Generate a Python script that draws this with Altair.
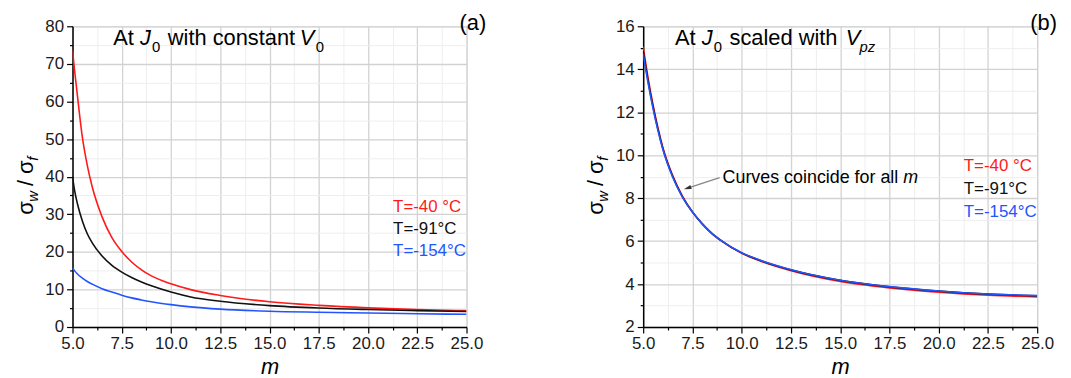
import altair as alt
import pandas as pd

FONT = "Liberation Sans"

# ---------------- data ----------------
series_labels = ["T=-40 °C", "T=-91°C", "T=-154°C"]
series_colors = ["#ff1a1a", "#111111", "#2355ff"]

m_a = [5.0, 5.1, 5.25, 5.5, 5.75, 6.0, 6.5, 7.0, 7.5, 8.0, 8.5, 9.0, 10.0, 11.0, 12.5, 15.0, 17.5, 20.0, 22.5, 25.0]
red_a = [73.6, 68.5, 61.5, 50.5, 43.0, 37.3, 29.3, 23.8, 20.1, 17.3, 15.2, 13.6, 11.5, 9.95, 8.4, 6.7, 5.75, 5.1, 4.65, 4.35]
black_a = [40.0, 36.5, 32.8, 28.2, 24.8, 22.4, 18.9, 16.4, 14.6, 13.15, 11.95, 10.95, 9.3, 8.0, 6.85, 5.7, 5.05, 4.65, 4.35, 4.12]
blue_a = [15.7, 15.0, 14.1, 13.0, 12.1, 11.4, 10.2, 9.3, 8.45, 7.75, 7.2, 6.72, 5.95, 5.35, 4.75, 4.2, 3.93, 3.72, 3.53, 3.38]

m_b = [5.0, 5.25, 5.5, 5.75, 6.0, 6.5, 7.0, 7.5, 8.0, 8.5, 9.0, 10.0, 11.0, 12.5, 15.0, 17.5, 20.0, 22.5, 25.0]
red_b = [15.05, 13.6, 12.35, 11.28, 10.36, 9.05, 8.08, 7.36, 6.8, 6.34, 5.99, 5.43, 5.05, 4.62, 4.12, 3.82, 3.62, 3.48, 3.40]
black_b = [14.85, 13.45, 12.25, 11.2, 10.3, 9.0, 8.05, 7.35, 6.8, 6.35, 6.0, 5.45, 5.08, 4.66, 4.17, 3.87, 3.67, 3.53, 3.45]
blue_b = [14.7, 13.35, 12.17, 11.14, 10.26, 8.97, 8.04, 7.35, 6.8, 6.35, 6.0, 5.46, 5.09, 4.67, 4.18, 3.88, 3.68, 3.54, 3.46]

x_ticks = [5.0 + 1.25 * i for i in range(17)]
y_ticks_a = [5 * i for i in range(17)]
y_ticks_b = [2 + i for i in range(15)]

W, H = 397, 303


def long_df(m, curves):
    rows = []
    for lab, ys in zip(series_labels, curves):
        for mm, v in zip(m, ys):
            rows.append({"m": mm, "v": v, "series": lab})
    return pd.DataFrame(rows)


def cond(test, major, minor):
    return {"condition": {"test": test, "value": major}, "value": minor}


def grid_axis(values, step, fmt, title=None):
    test = f"abs(datum.value/{step} - round(datum.value/{step})) < 1e-6"
    kw = dict(
        values=values,
        labelExpr=f"({test}) ? format(datum.value, '{fmt}') : ''",
        tickSize=cond(test, 6, 3),
        gridColor=cond(test, "#d2d2d2", "#eeeeee"),
        gridWidth=cond(test, 1.3, 1.0),
        labelOverlap=False,
        labelFlush=False,
        labelFont=FONT,
        labelFontSize=17,
        labelColor="#1a1a1a",
        labelPadding=3,
        domainColor="black",
        domainWidth=1.5,
        tickColor="black",
        tickWidth=1.2,
        grid=True,
    )
    if title is not None:
        kw.update(title=title, titleFontStyle="italic", titleFontWeight="normal",
                  titleFontSize=22, titleFont=FONT, titleColor="black", titlePadding=5)
    else:
        kw.update(title=None)
    return alt.Axis(**kw)


def txt(t, x, y, size=22, style="normal", color="black", angle=0, align="left", baseline="alphabetic"):
    return alt.Chart(pd.DataFrame({"t": [t]})).mark_text(
        font=FONT, fontSize=size, fontStyle=style, color=color, angle=angle,
        align=align, baseline=baseline,
    ).encode(text="t:N", x=alt.value(x), y=alt.value(y))


def ytitle(x0, y0):
    # sigma_w / sigma_f, rotated, built from pieces (reads bottom-to-top)
    pieces = [("σ", 22, "normal", 0, 13.2), ("w", 15, "italic", 5, 16.0),
              ("/", 22, "normal", 0, 12.0), ("σ", 22, "normal", 0, 13.2), ("f", 15, "italic", 5, 5)]
    layers = []
    y = y0
    for t, s, st, sh, adv in pieces:
        layers.append(txt(t, x0 + sh, y, size=s, style=st, angle=270))
        y -= adv
    return layers


def panel(m, curves, yticks, ystep, ydomain, title_pieces, leg_x, leg_ys, tag, extra=None):
    df = long_df(m, curves)
    lines = alt.Chart(df).mark_line(strokeWidth=1.6, interpolate="monotone", clip=True).encode(
        x=alt.X("m:Q", scale=alt.Scale(domain=[5, 25], nice=False, zero=False),
                axis=grid_axis(x_ticks, 2.5, ".1f", title="m")),
        y=alt.Y("v:Q", scale=alt.Scale(domain=ydomain, nice=False, zero=False),
                axis=grid_axis(yticks, ystep, "d")),
        color=alt.Color("series:N", scale=alt.Scale(domain=series_labels, range=series_colors), legend=None),
        detail="series:N",
    )
    layers = [lines]
    for t, x, y, s, st in title_pieces:
        layers.append(txt(t, x, y, size=s, style=st))
    for lab, col, yy in zip(series_labels, series_colors, leg_ys):
        layers.append(txt(lab, leg_x, yy, size=17, color=col, baseline="middle"))
    layers.append(txt(tag, W - 7, 3.5, size=22))
    layers += ytitle(-40, 190)
    if extra:
        layers += extra
    return alt.layer(*layers).properties(width=W, height=H)


title_a = [("At ", 41, 18.5, 22, "normal"), ("J", 68, 18.5, 22, "italic"), ("0", 80, 25.5, 15, "normal"),
           ("with constant", 96, 18.5, 22, "normal"), ("V", 229, 18.5, 22, "italic"), ("0", 245, 25.5, 15, "normal")]
title_b = [("At ", 32, 18.5, 22, "normal"), ("J", 59, 18.5, 22, "italic"), ("0", 71, 25.5, 15, "normal"),
           ("scaled with", 87, 18.5, 22, "normal"), ("V", 204, 18.5, 22, "italic"), ("pz", 218, 25.5, 15, "italic")]

arrow_line = alt.Chart(pd.DataFrame({"a": [0]})).mark_rule(color="#888888", strokeWidth=1.4).encode(
    x=alt.value(77), y=alt.value(152.5), x2=alt.value(44), y2=alt.value(163.3))
arrow_head = alt.Chart(pd.DataFrame({"a": [0]})).mark_point(
    shape="M0,0 L-0.45,1.6 L0.45,1.6 Z", filled=True, opacity=1, color="#333333", size=90, angle=252
).encode(x=alt.value(41), y=alt.value(164.3))
annot = [arrow_line, arrow_head,
         txt("Curves coincide for all ", 80, 158, size=18),
         txt("m", 262, 158, size=18, style="italic")]

pa = panel(m_a, [red_a, black_a, blue_a], y_ticks_a, 10, [0, 80], title_a, 323, [182, 204.3, 226.7], "(a)")
pb = panel(m_b, [red_b, black_b, blue_b], y_ticks_b, 2, [2, 16], title_b, 323, [141, 164.3, 186.7], "(b)", annot)

chart = alt.hconcat(pa, pb, spacing=178, bounds="flush").properties(
    padding={"left": 6, "top": 2, "right": 5, "bottom": 5}
).configure_view(stroke=None).configure(background="white")

chart.save("out.html", embed_options={"renderer": "svg", "actions": False})
